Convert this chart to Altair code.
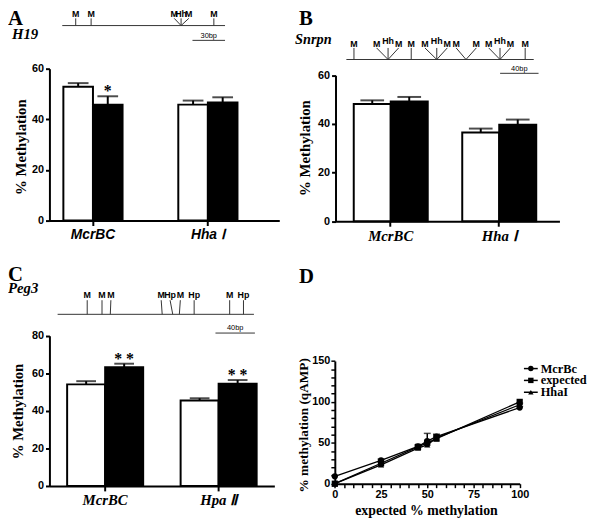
import altair as alt
import pandas as pd

# ---------------- data ----------------
# Panel A  (H19)
A_cats = ["McrBC", "Hha Ⅰ"]
A_white = [52.9, 45.8]
A_white_err = [1.4, 1.6]
A_black = [45.8, 46.6]
A_black_err = [3.3, 2.1]
A_sig = ["*", ""]

# Panel B  (Snrpn)
B_cats = ["McrBC", "Hha Ⅰ"]
B_white = [48.2, 36.5]
B_white_err = [1.5, 1.6]
B_black = [49.2, 39.7]
B_black_err = [1.9, 2.1]
B_sig = ["", ""]

# Panel C  (Peg3)
C_cats = ["McrBC", "Hpa Ⅱ"]
C_white = [54.1, 45.5]
C_white_err = [1.7, 1.2]
C_black = [63.2, 54.5]
C_black_err = [1.9, 1.9]
C_sig = ["* *", "* *"]

# Panel D  (standard curve)
D_series = ["McrBc", "expected", "HhaI"]
D_x = [0, 25, 45, 50, 55, 100]
D_mcrbc = [9, 28.5, 45.5, 52, 57.5, 93]
D_mcrbc_err = [0, 1.5, 2, 9.5, 3, 1.5]
D_expected = [0, 25, 45, 50, 55, 100]
D_expected_err = [0, 0, 0, 0, 0, 0]
D_hhai = [0, 23, 43.5, 47.5, 56, 96.5]
D_hhai_err = [0, 3, 2.5, 3, 3.5, 2]
D_x_ticks = list(range(0, 101, 5))
D_y_ticks = list(range(0, 151, 10))

# Restriction maps (positions in bp)
A_map_len = 150
A_site_bp = [12.4, 26.6, 109.5, 109.5, 109.5, 139.7]
A_label_bp = [12.4, 26.6, 103.2, 109.5, 116.6, 139.7]
A_enzyme = ["M", "M", "M", "Hh", "M", "M"]
A_bar = [120, 150]
A_bar_text = "30bp"

B_map_len = 195
B_site_bp = [7.9, 43.4, 43.4, 43.4, 67.5, 94.1, 94.1, 94.1, 124.5, 124.5, 159.9, 159.9, 159.9, 186.1]
B_label_bp = [7.9, 31.5, 43.4, 54.4, 67.5, 81.8, 94.1, 105.0, 114.3, 135.2, 148.2, 159.9, 170.7, 186.1]
B_enzyme = ["M", "M", "Hh", "M", "M", "M", "Hh", "M", "M", "M", "M", "Hh", "M", "M"]
B_bar = [160, 200]
B_bar_text = "40bp"

C_map_len = 199
C_site_bp = [30, 45, 53.4, 106, 116.7, 123.4, 138.4, 174.4, 188.4]
C_label_bp = [30, 45, 54.0, 105.0, 114.0, 124.4, 138.4, 174.4, 188.4]
C_enzyme = ["M", "M", "M", "M", "Hp", "M", "Hp", "M", "Hp"]
C_bar = [160, 200]
C_bar_text = "40bp"

# ---------------- layout helpers ----------------
W, H = 592, 513
SERIF = "Liberation Serif"
SANS = "Liberation Sans"


def px(v):
    return v - 8


def py(v):
    return v - 8


def note(text, x, y, size, font=SERIF, weight="bold", style="normal",
         align="left", baseline="alphabetic", angle=0):
    return alt.Chart(pd.DataFrame({"t": [text]})).mark_text(
        font=font, fontSize=size, fontWeight=weight, fontStyle=style,
        align=align, baseline=baseline, angle=angle, color="black"
    ).encode(x=alt.value(x), y=alt.value(y), text="t:N")


def bar_panel(cats, white, werr, black, berr, sig, x_range, pad_in, pad_out,
              align, y_dom, y_range, y_ticks, cat_font, cat_size, cap,
              title_x, title_y):
    rows = []
    for i, c in enumerate(cats):
        rows.append({"cat": c, "grp": "white", "val": white[i],
                     "top": white[i] + werr[i], "sig": ""})
        rows.append({"cat": c, "grp": "black", "val": black[i],
                     "top": black[i] + berr[i], "sig": sig[i]})
    df = pd.DataFrame(rows)
    n = len(cats)
    step = (x_range[1] - x_range[0]) / (n - pad_in + 2 * pad_out)
    band = step * (1 - pad_in)

    def xs():
        return alt.Scale(domain=cats, range=[px(x_range[0]), px(x_range[1])],
                         paddingInner=pad_in, paddingOuter=pad_out,
                         align=align)

    def ys():
        return alt.Scale(domain=y_dom, range=[py(y_range[0]), py(y_range[1])],
                         nice=False, zero=True)

    def xo():
        return alt.XOffset("grp:N", scale=alt.Scale(
            domain=["white", "black"], paddingInner=0, paddingOuter=0))

    x_axis = alt.Axis(
        orient="bottom", offset=py(y_range[0]) - H, title=None, labelAngle=0,
        labelFont=cat_font, labelFontSize=cat_size, labelFontStyle="italic",
        labelFontWeight="bold", labelColor="black", labelPadding=2,
        tickSize=5, tickWidth=2, tickColor="black", domainWidth=2,
        domainColor="black", grid=False)
    y_axis = alt.Axis(
        orient="left", offset=-px(x_range[0]), values=y_ticks,
        title="% Methylation", titleFont=SERIF, titleFontSize=15,
        titleFontWeight="bold", titleColor="black", titleAngle=-90,
        titleX=title_x - x_range[0], titleY=py(title_y), titleAlign="center",
        titleBaseline="middle", labelFont=SANS, labelFontSize=11,
        labelFontWeight="bold", labelColor="black", labelPadding=2,
        tickSize=4, tickWidth=2, tickColor="black", domainWidth=2,
        domainColor="black", grid=False)

    bars = alt.Chart(df).mark_bar(stroke="black", strokeWidth=2).encode(
        x=alt.X("cat:N", scale=xs(), axis=x_axis),
        xOffset=xo(),
        y=alt.Y("val:Q", scale=ys(), axis=y_axis),
        fill=alt.Fill("grp:N", scale=alt.Scale(domain=["white", "black"],
                                                range=["white", "black"]),
                      legend=None),
    )
    err = alt.Chart(df).mark_rule(strokeWidth=2, color="black").encode(
        x=alt.X("cat:N", scale=xs(), axis=None), xOffset=xo(),
        y=alt.Y("val:Q", scale=ys(), axis=None), y2="top:Q")
    caps = alt.Chart(df).mark_tick(thickness=2, size=cap, color="black",
                                   orient="horizontal").encode(
        x=alt.X("cat:N", scale=xs(), axis=None), xOffset=xo(),
        y=alt.Y("top:Q", scale=ys(), axis=None))
    stars = alt.Chart(df).mark_text(font=SERIF, fontSize=16, fontWeight="bold",
                                    baseline="alphabetic", dy=0,
                                    dx=-band / 4, align="center",
                                    color="black").encode(
        x=alt.X("cat:N", scale=xs(), axis=None),
        xOffset=xo(),
        y=alt.Y("top:Q", scale=ys(), axis=None), text="sig:N")
    return [bars, err, caps, stars]


def map_panel(length, site_bp, label_bp, enzyme, bar, bar_text, x0, ppb,
              base_y, top_y, label_y, hh_y, bar_y, bar_text_y):
    def xs():
        return alt.Scale(domain=[0, length],
                         range=[px(x0), px(x0 + length * ppb)], nice=False,
                         zero=False)
    sites = pd.DataFrame({"site": site_bp, "lab": label_bp, "enz": enzyme})
    line = alt.Chart(pd.DataFrame({"s": [0], "e": [length]})).mark_rule(
        color="#333333", strokeWidth=1).encode(
        x=alt.X("s:Q", scale=xs(), axis=None), x2="e:Q",
        y=alt.value(py(base_y)))
    ticks = alt.Chart(sites).mark_rule(color="#333333", strokeWidth=1).encode(
        x=alt.X("lab:Q", scale=xs(), axis=None), x2="site:Q",
        y=alt.value(py(top_y)), y2=alt.value(py(base_y)))
    txt = dict(font=SANS, fontSize=9, fontWeight="bold", color="black",
               baseline="middle", align="center")
    labs = alt.Chart(sites).transform_filter("datum.enz != 'Hh'").mark_text(
        **txt).encode(x=alt.X("lab:Q", scale=xs(), axis=None),
                      y=alt.value(py(label_y)), text="enz:N")
    hh = alt.Chart(sites).transform_filter("datum.enz == 'Hh'").mark_text(
        **txt).encode(x=alt.X("lab:Q", scale=xs(), axis=None),
                      y=alt.value(py(hh_y)), text="enz:N")
    sb = pd.DataFrame({"s": [bar[0]], "e": [bar[1]],
                       "m": [(bar[0] + bar[1]) / 2], "t": [bar_text]})
    sbar = alt.Chart(sb).mark_rule(color="#333333", strokeWidth=1).encode(
        x=alt.X("s:Q", scale=xs(), axis=None), x2="e:Q",
        y=alt.value(py(bar_y)))
    stext = alt.Chart(sb).mark_text(font=SANS, fontSize=7.5, color="black",
                                    baseline="middle", align="center").encode(
        x=alt.X("m:Q", scale=xs(), axis=None), y=alt.value(py(bar_text_y)),
        text="t:N")
    return [line, ticks, labs, hh, sbar, stext]


# ---------------- panels A, B, C ----------------
panel_A = bar_panel(A_cats, A_white, A_white_err, A_black, A_black_err, A_sig,
                    x_range=[50, 283], pad_in=0.485, pad_out=0.2425, align=0.25,
                    y_dom=[0, 60], y_range=[220, 66], y_ticks=[0, 20, 40, 60],
                    cat_font=SANS, cat_size=14, cap=21, title_x=21,
                    title_y=145)
panel_B = bar_panel(B_cats, B_white, B_white_err, B_black, B_black_err, B_sig,
                    x_range=[340, 567], pad_in=0.318, pad_out=0.191, align=0.44,
                    y_dom=[0, 60], y_range=[220.7, 72.7],
                    y_ticks=[0, 20, 40, 60], cat_font=SERIF, cat_size=15,
                    cap=24, title_x=309, title_y=146)
panel_C = bar_panel(C_cats, C_white, C_white_err, C_black, C_black_err, C_sig,
                    x_range=[50, 278], pad_in=0.33, pad_out=0.156, align=0.5,
                    y_dom=[0, 80], y_range=[489, 336.7],
                    y_ticks=[0, 20, 40, 60, 80], cat_font=SERIF, cat_size=15,
                    cap=20, title_x=18, title_y=413)

map_A = map_panel(A_map_len, A_site_bp, A_label_bp, A_enzyme, A_bar,
                  A_bar_text, x0=63, ppb=1.1, base_y=22.3, top_y=15,
                  label_y=11, hh_y=11, bar_y=37.3, bar_text_y=33)
map_B = map_panel(B_map_len, B_site_bp, B_label_bp, B_enzyme, B_bar,
                  B_bar_text, x0=351, ppb=0.974, base_y=56.7, top_y=45,
                  label_y=40.7, hh_y=37.5, bar_y=70.7, bar_text_y=66)
map_C = map_panel(C_map_len, C_site_bp, C_label_bp, C_enzyme, C_bar,
                  C_bar_text, x0=58.3, ppb=1.0, base_y=315, top_y=300.7,
                  label_y=295, hh_y=295, bar_y=334, bar_text_y=329)

# ---------------- panel D ----------------
d_rows = []
for s, vals, errs in zip(D_series, [D_mcrbc, D_expected, D_hhai],
                         [D_mcrbc_err, D_expected_err, D_hhai_err]):
    for xv, v, e in zip(D_x, vals, errs):
        d_rows.append({"series": s, "x": xv, "y": v, "top": v + e, "e": e})
df_d = pd.DataFrame(d_rows)


def dxs():
    return alt.Scale(domain=[0, 100], range=[px(339.3), px(526.7)],
                     nice=False, zero=False)


def dys():
    return alt.Scale(domain=[0, 150], range=[py(486.7), py(362.3)],
                     nice=False)


def shape_scale():
    return alt.Scale(domain=D_series,
                     range=["circle", "square", "triangle-up"])


d_x_axis = alt.Axis(
    orient="bottom", offset=py(486.7) - H, values=D_x_ticks,
    labelExpr="datum.value % 25 === 0 ? datum.label : ''",
    labelOverlap=False, labelFlush=False,
    tickSize=4, tickWidth=1.5, tickColor="black", domainWidth=2,
    domainColor="black", labelFont=SANS, labelFontSize=11,
    labelFontWeight="bold", labelColor="black", labelPadding=1, grid=False,
    title="expected % methylation", titleFont=SERIF, titleFontSize=14,
    titleFontWeight="bold", titleColor="black", titleX=px(431.7),
    titleY=514 - 486.7, titleAlign="center", titleBaseline="middle")
d_y_axis = alt.Axis(
    orient="left", offset=-px(339.3), values=D_y_ticks,
    labelExpr="datum.value % 50 === 0 ? datum.label : ''",
    labelOverlap=False, labelFlush=False,
    tickSize=4, tickWidth=1.5, tickColor="black", domainWidth=2,
    domainColor="black", labelFont=SANS, labelFontSize=11,
    labelFontWeight="bold", labelColor="black", labelPadding=1, grid=False,
    title="% methylation (qAMP)", titleFont=SERIF, titleFontSize=13.5,
    titleFontWeight="bold", titleColor="black", titleAngle=-90,
    titleX=308 - 339.3, titleY=py(427), titleAlign="center",
    titleBaseline="middle")

d_lines = alt.Chart(df_d).mark_line(color="black", strokeWidth=1.3).encode(
    x=alt.X("x:Q", scale=dxs(), axis=d_x_axis),
    y=alt.Y("y:Q", scale=dys(), axis=d_y_axis),
    detail="series:N")
d_err = alt.Chart(df_d).transform_filter("datum.e > 0").mark_rule(
    color="black", strokeWidth=1.5).encode(
    x=alt.X("x:Q", scale=dxs(), axis=None),
    y=alt.Y("y:Q", scale=dys(), axis=None), y2="top:Q")
d_caps = alt.Chart(df_d).transform_filter("datum.e > 0").mark_tick(
    color="black", thickness=1.5, size=7, orient="horizontal").encode(
    x=alt.X("x:Q", scale=dxs(), axis=None),
    y=alt.Y("top:Q", scale=dys(), axis=None))
d_pts = alt.Chart(df_d).mark_point(filled=True, color="black", size=40,
                                   opacity=1).encode(
    x=alt.X("x:Q", scale=dxs(), axis=None),
    y=alt.Y("y:Q", scale=dys(), axis=None),
    shape=alt.Shape("series:N", scale=shape_scale(), legend=None))
panel_D = [d_lines, d_err, d_caps, d_pts]

# legend for D
leg_df = pd.DataFrame({"series": D_series})


def leg_y():
    return alt.Scale(type="point", domain=D_series,
                     range=[py(370), py(394)], padding=0)


leg_line = alt.Chart(leg_df).mark_rule(color="black", strokeWidth=1.5).encode(
    y=alt.Y("series:N", scale=leg_y(), axis=None),
    x=alt.value(px(531)), x2=alt.value(px(545)))
leg_pts = alt.Chart(leg_df).mark_point(filled=True, color="black", size=30,
                                       opacity=1).encode(
    y=alt.Y("series:N", scale=leg_y(), axis=None), x=alt.value(px(538)),
    shape=alt.Shape("series:N", scale=shape_scale(), legend=None))
leg_txt = alt.Chart(leg_df).mark_text(font=SERIF, fontSize=12.5,
                                      fontWeight="bold", align="left",
                                      baseline="middle", color="black").encode(
    y=alt.Y("series:N", scale=leg_y(), axis=None), x=alt.value(px(548)),
    text="series:N")
legend_D = [leg_line, leg_pts, leg_txt]

# ---------------- annotations ----------------
notes = [
    note("A", 0, 14, 21),
    note("B", px(303), 14, 21),
    note("C", 0, py(281), 21),
    note("D", px(303), py(283), 21),
    note("H19", px(12), py(30.5), 15, style="italic", baseline="middle"),
    note("Snrpn", px(299), py(37), 14.5, style="italic", baseline="middle"),
    note("Peg3", 0, py(288), 15, style="italic", baseline="middle"),
]

units = (panel_A + panel_B + panel_C + panel_D + map_A + map_B + map_C
         + legend_D + notes)

chart = alt.layer(*units).resolve_scale(
    x="independent", y="independent", xOffset="independent",
    fill="independent", shape="independent"
).properties(
    width=W, height=H, padding=0,
    autosize=alt.AutoSizeParams(type="none")
).configure_view(stroke=None)

chart.save("out.html", embed_options={"renderer": "svg", "actions": False})
